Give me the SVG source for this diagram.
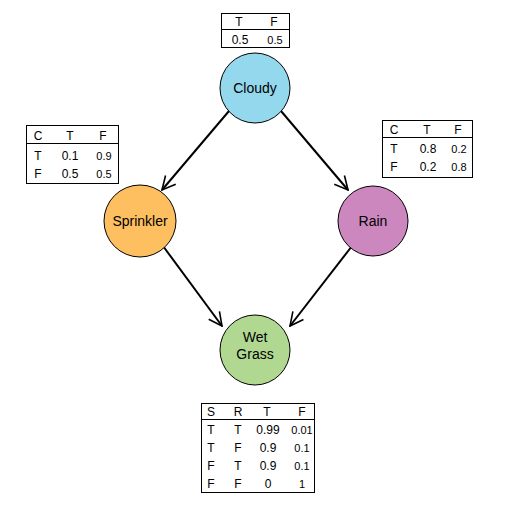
<svg xmlns="http://www.w3.org/2000/svg" width="512" height="512" viewBox="0 0 512 512">
<style>
.node{stroke:#000;stroke-width:1}
.lbl{font-family:"Liberation Sans",Arial,sans-serif;font-size:14px;text-anchor:middle;fill:#000}
.tb{fill:#fff;stroke:#000;stroke-width:1}
.t{font-family:"Liberation Sans",Arial,sans-serif;font-size:12px;text-anchor:middle;fill:#000}
.s{font-size:11px}
.e{stroke:#000;stroke-width:2;fill:none;marker-end:url(#arr)}
</style>
<defs>
<marker id="arr" viewBox="0 0 12 12" refX="11" refY="6" markerWidth="8" markerHeight="8" orient="auto" markerUnits="strokeWidth">
<path d="M1,1 L11,6 L1,11" fill="none" stroke="#000" stroke-width="1.2"/>
</marker>
</defs>
<g id="connectors">
<line class="e" x1="229" y1="111" x2="162" y2="190"/>
<line class="e" x1="281" y1="111" x2="348" y2="190"/>
<line class="e" x1="163" y1="246" x2="222" y2="326"/>
<line class="e" x1="352" y1="246" x2="290" y2="326"/>
</g>
<g id="cloudy">
<circle class="node" cx="255" cy="88" r="35" fill="#94d8ee"/>
<text class="lbl" x="255" y="93">Cloudy</text>
</g>
<g id="sprinkler">
<circle class="node" cx="140" cy="221" r="36" fill="#fdbf5f"/>
<text class="lbl" x="140" y="226">Sprinkler</text>
</g>
<g id="rain">
<circle class="node" cx="373" cy="221" r="35" fill="#cc88be"/>
<text class="lbl" x="373" y="226">Rain</text>
</g>
<g id="wetgrass">
<circle class="node" cx="255" cy="350" r="35" fill="#b0d890"/>
<text class="lbl" x="255" y="342">Wet</text>
<text class="lbl" x="255" y="359">Grass</text>
</g>
<g id="table-cloudy">
<rect class="tb" x="221.5" y="13.5" width="68" height="34"/>
<line x1="221.5" y1="29.5" x2="289.5" y2="29.5" stroke="#000"/>
<text class="t" x="239" y="26">T</text>
<text class="t" x="274" y="26">F</text>
<text class="t" x="240" y="44">0.5</text>
<text class="t s" x="275" y="44">0.5</text>
</g>
<g id="table-sprinkler">
<rect class="tb" x="26.5" y="125.5" width="92" height="58"/>
<line x1="26.5" y1="143.5" x2="118.5" y2="143.5" stroke="#000"/>
<text class="t" x="38" y="140">C</text>
<text class="t" x="70" y="140">T</text>
<text class="t" x="103" y="140">F</text>
<text class="t" x="38" y="160">T</text>
<text class="t" x="70" y="160">0.1</text>
<text class="t s" x="104" y="160">0.9</text>
<text class="t" x="38" y="178">F</text>
<text class="t" x="70" y="178">0.5</text>
<text class="t s" x="104" y="178">0.5</text>
</g>
<g id="table-rain">
<rect class="tb" x="382.5" y="120.5" width="90" height="57"/>
<line x1="382.5" y1="137.5" x2="472.5" y2="137.5" stroke="#000"/>
<text class="t" x="394" y="134">C</text>
<text class="t" x="427" y="134">T</text>
<text class="t" x="458" y="134">F</text>
<text class="t" x="394" y="153">T</text>
<text class="t" x="428" y="153">0.8</text>
<text class="t s" x="459" y="153">0.2</text>
<text class="t" x="394" y="171">F</text>
<text class="t" x="428" y="171">0.2</text>
<text class="t s" x="459" y="171">0.8</text>
</g>
<g id="table-wetgrass">
<rect class="tb" x="201.5" y="403.5" width="113" height="89"/>
<line x1="201.5" y1="419.5" x2="314.5" y2="419.5" stroke="#000"/>
<text class="t" x="211" y="416">S</text>
<text class="t" x="238" y="416">R</text>
<text class="t" x="267" y="416">T</text>
<text class="t" x="302" y="416">F</text>
<text class="t" x="211" y="434">T</text>
<text class="t" x="238" y="434">T</text>
<text class="t" x="268" y="434">0.99</text>
<text class="t s" x="302" y="434">0.01</text>
<text class="t" x="211" y="452">T</text>
<text class="t" x="238" y="452">F</text>
<text class="t" x="268" y="452">0.9</text>
<text class="t s" x="302" y="452">0.1</text>
<text class="t" x="211" y="470">F</text>
<text class="t" x="238" y="470">T</text>
<text class="t" x="268" y="470">0.9</text>
<text class="t s" x="302" y="470">0.1</text>
<text class="t" x="211" y="488">F</text>
<text class="t" x="238" y="488">F</text>
<text class="t" x="268" y="488">0</text>
<text class="t s" x="302" y="488">1</text>
</g>
</svg>
